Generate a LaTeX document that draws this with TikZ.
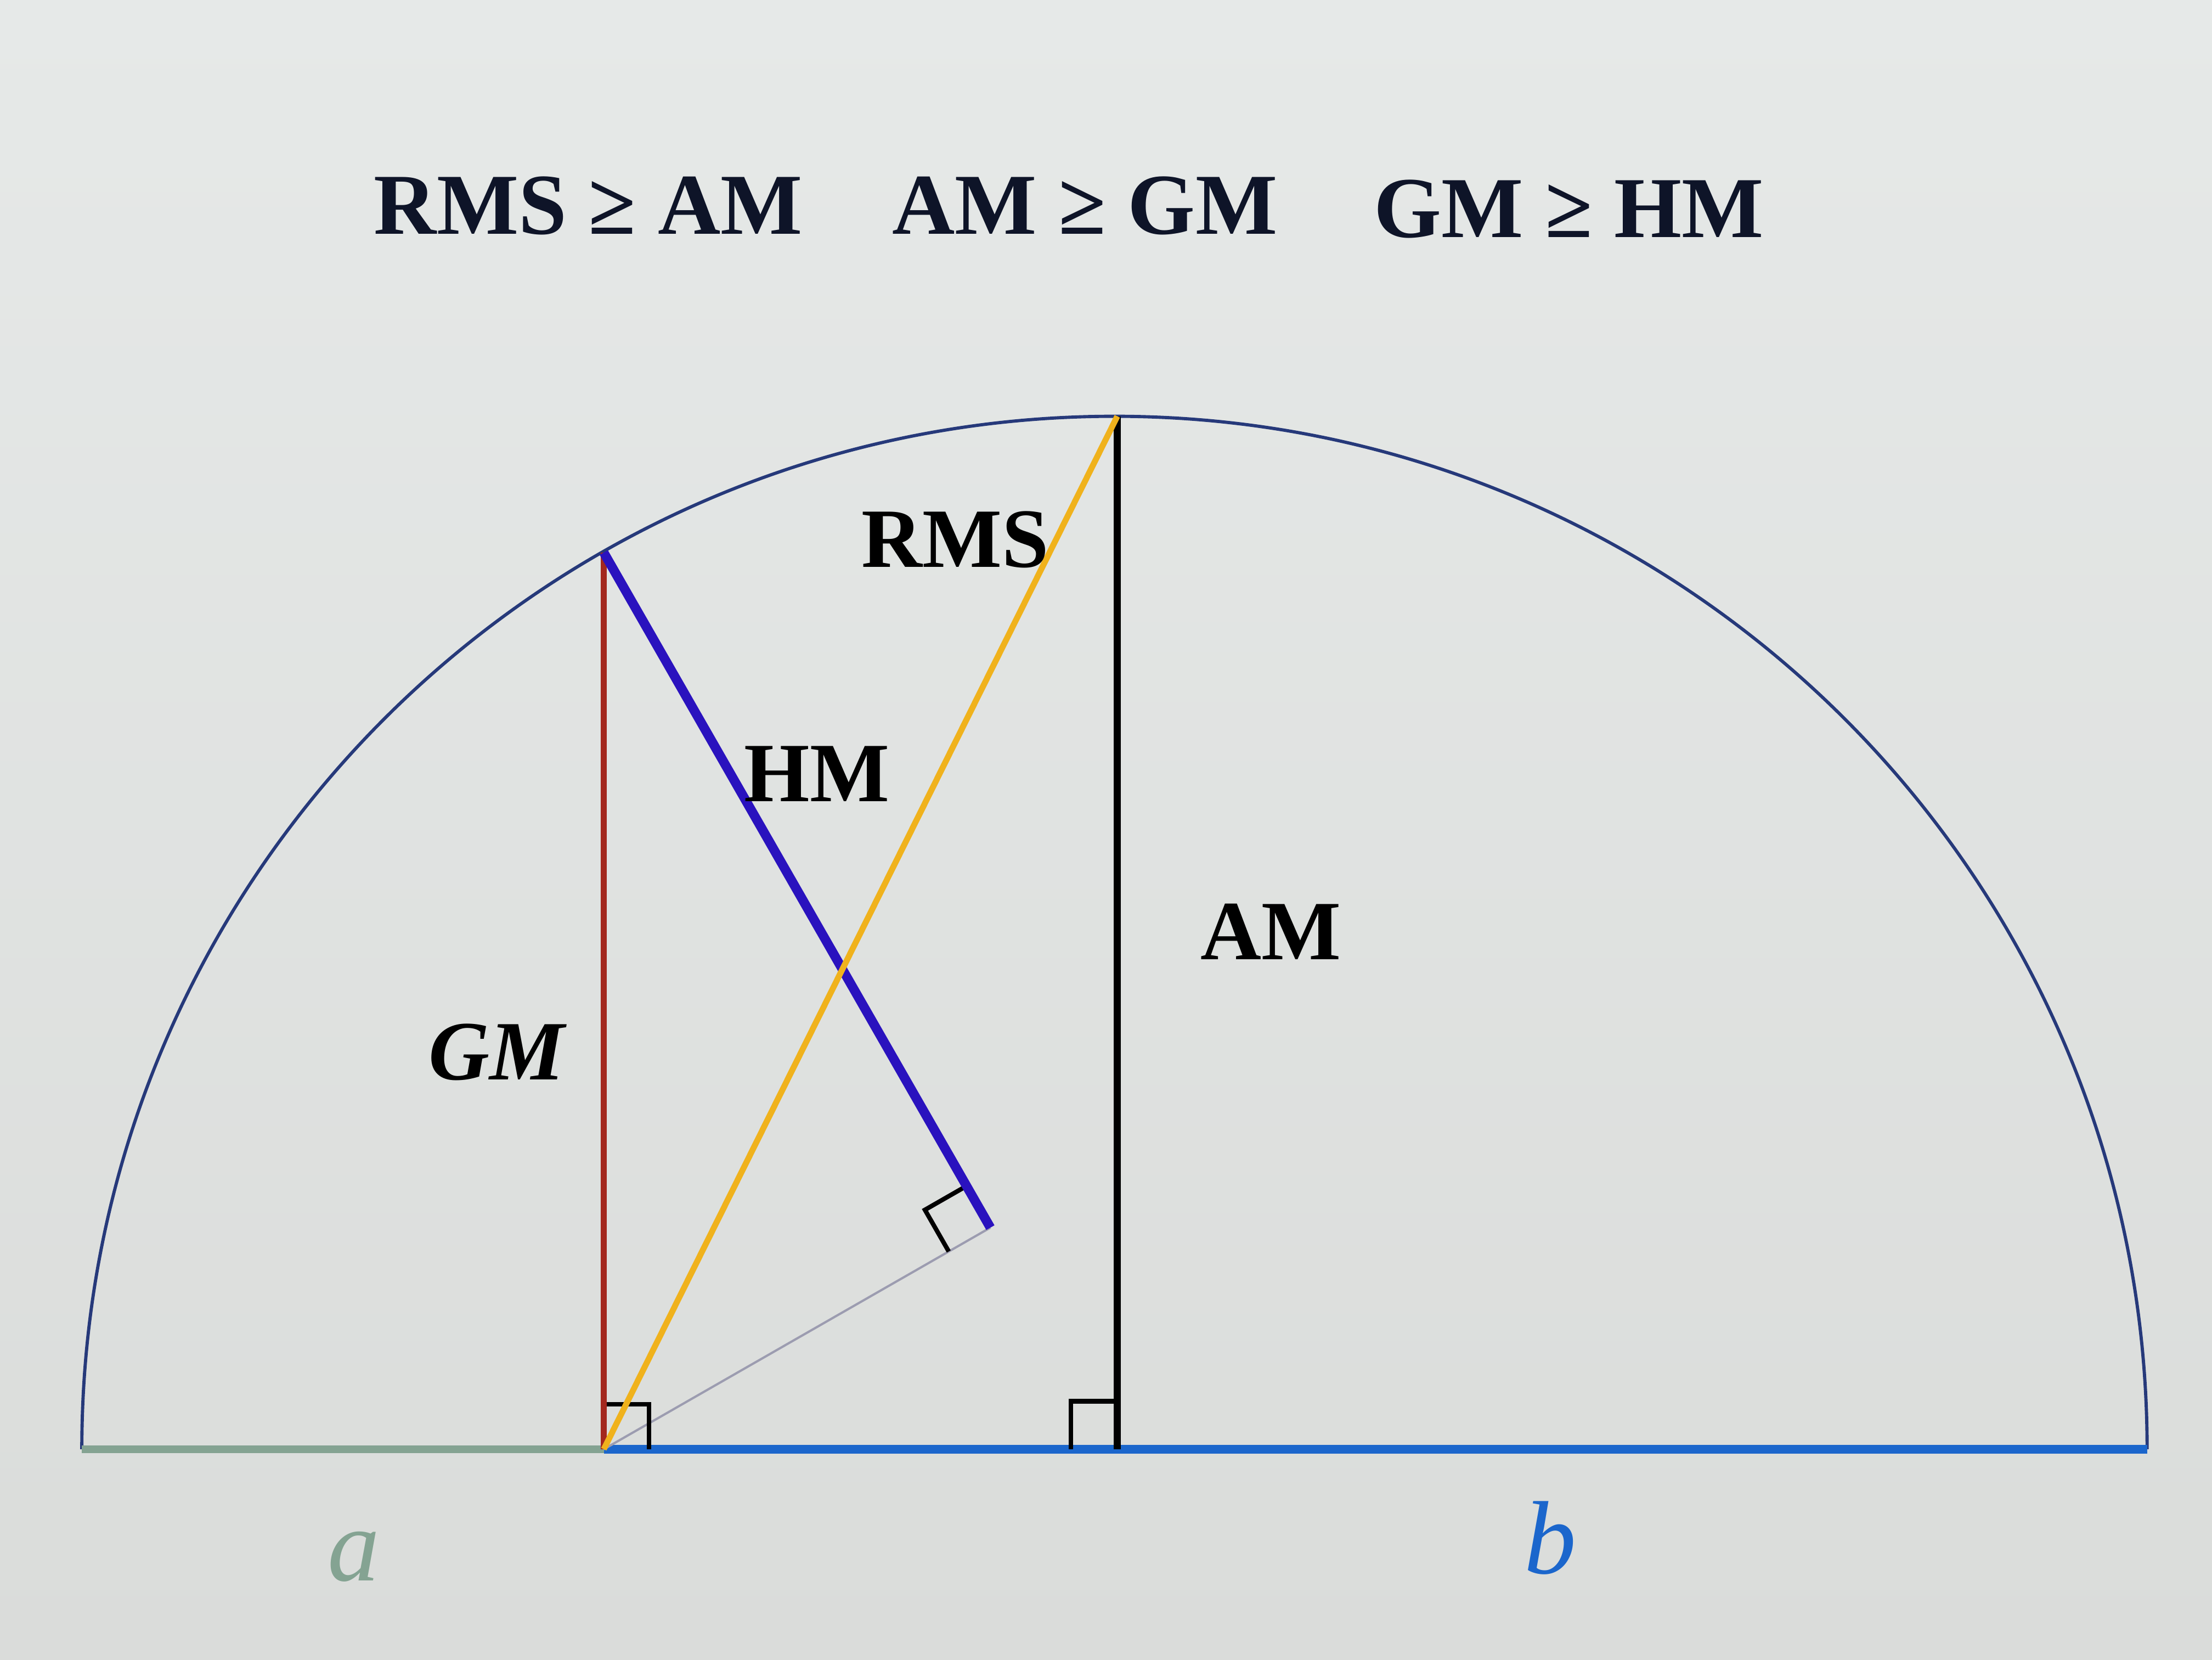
\documentclass[tikz,border=0pt]{standalone}
\usepackage{fontspec}
\setmainfont{Liberation Serif}
\usetikzlibrary{calc}
\definecolor{bgtop}{HTML}{E6E9E8}
\definecolor{bgbot}{HTML}{DADCDA}
\definecolor{arcc}{HTML}{26397A}
\definecolor{gmc}{HTML}{A3281E}
\definecolor{hmc}{HTML}{2A12BE}
\definecolor{rmsc}{HTML}{F0B21C}
\definecolor{basec}{HTML}{1B66CC}
\definecolor{ac}{HTML}{84A392}
\definecolor{thinc}{HTML}{9C9CB0}
\definecolor{txtc}{HTML}{0E1428}
\tikzset{
  titletext/.style={anchor=base, inner sep=0pt, text=txtc, font=\bfseries\fontsize{17.5pt}{21pt}\selectfont},
  lbltext/.style={anchor=base, inner sep=0pt, text=black, font=\bfseries\fontsize{17pt}{20pt}\selectfont},
  vartext/.style={anchor=base, inner sep=0pt, font=\itshape\fontsize{21pt}{24pt}\selectfont},
  rmark/.style={draw=black, line width=0.9pt, line join=miter},
}
\begin{document}
\begin{tikzpicture}[x=0.1mm, y=-0.1mm]
\useasboundingbox (0,0) rectangle (1568,1176);
\shade[top color=bgtop, bottom color=bgbot] (0,0) rectangle (1568,1176);

% key points
\coordinate (L) at (58,1027);
\coordinate (R) at (1522,1027);
\coordinate (O) at (792,1027);
\coordinate (F) at (428,1027);
\coordinate (G) at (428,391.6);
\coordinate (T) at (792,295);
\coordinate (H) at ($(G)!(F)!(O)$);

% semicircle
\draw[arcc, line width=0.65pt] (L) arc[start angle=180, end angle=360, radius=732];

% base segments
\draw[ac, line width=1.5pt] (L) -- (F);
\draw[basec, line width=1.8pt] (F) -- (R);

% thin line F to H
\draw[thinc, line width=0.45pt] (F) -- (H);

% right-angle marks
\draw[rmark] (428,995) -- (460,995) -- (460,1027);
\draw[rmark] (792,993) -- (759,993) -- (759,1027);
\coordinate (H1) at ($(H)!3.4mm!(G)$);
\coordinate (H3) at ($(H)!3.4mm!(F)$);
\coordinate (H2) at ($(H1)+(H3)-(H)$);
\draw[rmark] (H1) -- (H2) -- (H3);

% GM
\draw[gmc, line width=1.2pt] (F) -- (G);
% AM
\draw[black, line width=1.5pt] (O) -- (T);
% HM
\draw[hmc, line width=1.9pt] (G) -- (H);
% RMS
\draw[rmsc, line width=1.2pt] (F) -- (T);

% titles
\node[titletext] (t1) at (417,166) {RMS ≥ AM};
\node[titletext] (t2) at (769,166) {AM ≥ GM};
\node[titletext] (t3) at (1112,168) {GM ≥ HM};

% labels
\node[lbltext] (lrms) at (677,402) {RMS};
\node[lbltext] (lhm) at (579,568) {HM};
\node[lbltext] (lam) at (901,680) {AM};
\node[lbltext, font=\bfseries\itshape\fontsize{17pt}{20pt}\selectfont] (lgm) at (352,765) {GM};
\node[vartext, text=ac] (la) at (251,1120) {a};
\node[vartext, text=basec] (lb) at (1099,1115) {b};
\end{tikzpicture}
\end{document}
